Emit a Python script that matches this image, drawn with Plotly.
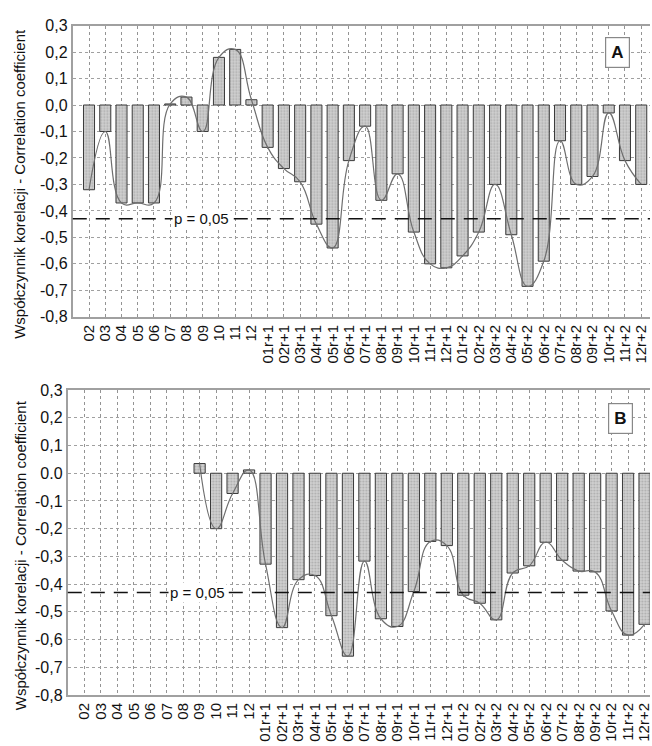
import plotly.graph_objects as go

categories = ["02", "03", "04", "05", "06", "07", "08", "09", "10", "11", "12",
              "01r+1", "02r+1", "03r+1", "04r+1", "05r+1", "06r+1", "07r+1", "08r+1", "09r+1", "10r+1", "11r+1", "12r+1",
              "01r+2", "02r+2", "03r+2", "04r+2", "05r+2", "06r+2", "07r+2", "08r+2", "09r+2", "10r+2", "11r+2", "12r+2"]

values_a = [-0.32, -0.10, -0.37, -0.37, -0.37, 0.004, 0.03, -0.10, 0.18, 0.21, 0.02,
            -0.16, -0.24, -0.29, -0.45, -0.54, -0.21, -0.08, -0.36, -0.26, -0.48, -0.60, -0.615,
            -0.57, -0.48, -0.30, -0.49, -0.685, -0.59, -0.135, -0.30, -0.27, -0.03, -0.21, -0.30]

values_b = [None, None, None, None, None, None, None, 0.035, -0.20, -0.073, 0.012,
            -0.328, -0.557, -0.384, -0.369, -0.514, -0.66, -0.317, -0.525, -0.553, -0.427, -0.246, -0.261,
            -0.44, -0.469, -0.529, -0.36, -0.334, -0.249, -0.314, -0.353, -0.356, -0.497, -0.584, -0.545]

p_level = -0.43
p_label = "p = 0,05"
y_ticks = [0.3, 0.2, 0.1, 0.0, -0.1, -0.2, -0.3, -0.4, -0.5, -0.6, -0.7, -0.8]
y_ticktext_a = ["0,3", "0,2", "0,1", "0,0", "-0,1", "-0,2", "-0,3", "-0,4", "-0,5", "-0,6", "-0,7", "-0,8"]
y_ticktext_b = ["0,3", "0,2", "0,1", "0.0", "-0,1", "-0,2", "-0,3", "-0,4", "-0,5", "-0,6", "-0,7", "-0,8"]
y_title = "Współczynnik korelacji - Correlation coefficient"

FONT = "Liberation Sans, Arial, sans-serif"
W, H = 652, 746

fig = go.Figure()

bar_style = dict(
    marker=dict(color="#c2c2c2", line=dict(color="#3a3a3a", width=1),
                pattern=dict(shape=".", fgcolor="#858585", bgcolor="#d0d0d0", size=3, solidity=0.35)),
    width=0.68, showlegend=False,
)
line_style = dict(mode="lines", line=dict(color="#6e6e6e", width=1.2, shape="spline", smoothing=1.3),
                  showlegend=False, connectgaps=False)

fig.add_trace(go.Bar(x=categories, y=values_a, xaxis="x", yaxis="y", **bar_style))
fig.add_trace(go.Scatter(x=categories, y=values_a, xaxis="x", yaxis="y", **line_style))
fig.add_trace(go.Bar(x=categories, y=values_b, xaxis="x2", yaxis="y2", **bar_style))
xb = [c for c, v in zip(categories, values_b) if v is not None]
yb = [v for v in values_b if v is not None]
fig.add_trace(go.Scatter(x=xb, y=yb, xaxis="x2", yaxis="y2", **line_style))

# significance lines
for xr, yr in (("x", "y"), ("x2", "y2")):
    fig.add_shape(type="line", xref=f"{xr} domain", yref=yr, x0=0, x1=1, y0=p_level, y1=p_level,
                  line=dict(color="#111", width=1.5, dash="14px,9px"))
    fig.add_annotation(x=6.9, y=p_level, xref=xr, yref=yr, text=p_label, showarrow=False,
                       bgcolor="white", font=dict(family=FONT, size=15, color="#111"), borderpad=1)

a_top, a_bot = 18, 316
b_top, b_bot = 391, 703

common_x = dict(type="category", categoryorder="array", categoryarray=categories,
                tickmode="array", tickvals=categories, ticktext=categories,
                tickangle=-90, tickfont=dict(family=FONT, size=15, color="#111"),
                showgrid=True, gridcolor="#949494", griddash="dot", gridwidth=1,
                showline=True, linecolor="#a0a0a0", linewidth=2, mirror=True,
                ticks="", zeroline=False)
common_y = dict(range=[-0.8, 0.3], tickmode="array", tickvals=y_ticks,
                tickfont=dict(family=FONT, size=16, color="#111"),
                showgrid=True, gridcolor="#a0a0a0", griddash="dot", gridwidth=1,
                showline=True, linecolor="#a0a0a0", linewidth=2, mirror=False,
                ticks="", zeroline=False)

fig.update_layout(
    width=W, height=H, margin=dict(l=0, r=0, t=0, b=0),
    paper_bgcolor="white", plot_bgcolor="white", bargap=0.3,
    xaxis=dict(domain=[73 / W, 1], range=[-1, 34.54], anchor="y", **common_x),
    yaxis=dict(domain=[1 - a_bot / H, 1 - a_top / H], anchor="x", ticktext=y_ticktext_a, **common_y),
    xaxis2=dict(domain=[68 / W, 1], range=[-1, 34.33], anchor="y2", **common_x),
    yaxis2=dict(domain=[1 - b_bot / H, 1 - b_top / H], anchor="x2", ticktext=y_ticktext_b, **common_y),
)

# y titles
for cy in (180, 560):
    fig.add_annotation(x=20 / W, y=1 - cy / H, xref="paper", yref="paper", text=y_title, textangle=-90,
                       xanchor="center", yanchor="middle",
                       showarrow=False, font=dict(family=FONT, size=15, color="#111"))

# panel labels
for lbl, px, py in (("A", 619, 46), ("B", 622, 420)):
    fig.add_annotation(x=px / W, y=1 - py / H, xref="paper", yref="paper", text=f"<b>{lbl}</b>",
                       xanchor="center", yanchor="middle",
                       showarrow=False, bgcolor="white", bordercolor="#888", borderwidth=1.2, borderpad=5,
                       font=dict(family=FONT, size=17, color="#111"))

fig.write_html("out.html")
